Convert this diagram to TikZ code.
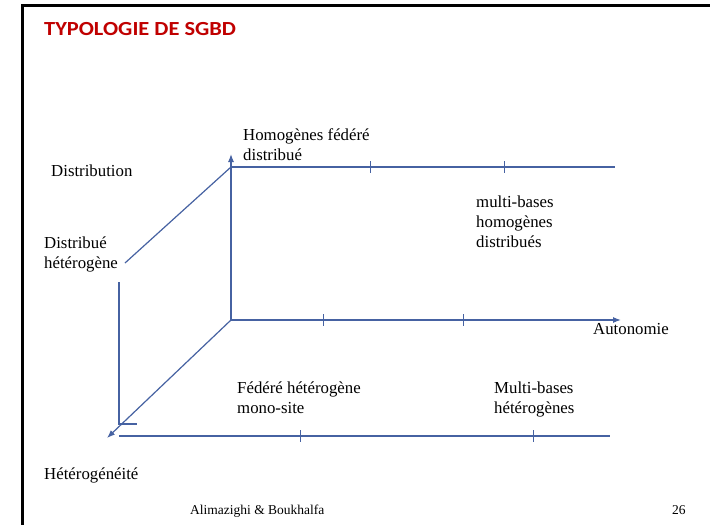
\documentclass[tikz,border=0pt]{standalone}
\usepackage{fontspec}
\setmainfont{Liberation Serif}
\newfontfamily\titlefont{Carlito}
\usetikzlibrary{arrows.meta}
\definecolor{axiscol}{RGB}{70,98,162}
\definecolor{titlered}{RGB}{192,0,0}
\tikzset{
  axisline/.style={draw=axiscol, line width=1.2pt},
  axisarrow/.style={axisline, -{Latex[length=8pt,width=6pt]}},
  tickmark/.style={draw=axiscol, line width=1pt},
  lbl/.style={anchor=base west, inner sep=0pt, align=left, font=\fontsize{16.8}{20}\selectfont},
  foot/.style={anchor=base west, inner sep=0pt, font=\fontsize{13.5}{16}\selectfont},
  framebar/.style={draw=black, line width=3pt}
}
\begin{document}
\begin{tikzpicture}[x=1pt,y=-1pt]
\useasboundingbox (0,0) rectangle (710,525);
\fill[white] (0,0) rectangle (710,525);
% frame
\coordinate (fTL) at (22.5,5);
\coordinate (fTR) at (710,5);
\coordinate (fBL) at (22.5,525);
\draw[framebar] (fBL) -- (fTL) -- (fTR);
% title
\node[anchor=base west, inner sep=0pt, text=titlered, font=\titlefont\bfseries\fontsize{20}{22}\selectfont] (title) at (44,35.5) {\scalebox{1.12}[1]{TYPOLOGIE DE SGBD}};
% axes coordinates
\coordinate (O) at (231,320);
\coordinate (Vtop) at (231,154);
\coordinate (T0) at (231,167);
\coordinate (Tend) at (615,167);
\coordinate (Aend) at (621,320);
\coordinate (Dend) at (107,438);
\coordinate (Uend) at (125,263);
\coordinate (Ltop) at (119,282);
\coordinate (Lbot) at (119,424);
\coordinate (Lshort) at (137,424);
\coordinate (B0) at (119,436);
\coordinate (Bend) at (610,436);
% axis lines
\draw[axisarrow] (O) -- (Vtop);
\draw[axisline] (T0) -- (Tend);
\draw[axisarrow] (O) -- (Aend);
\draw[axisarrow] (O) -- (Dend);
\draw[axisline] (T0) -- (Uend);
\draw[axisline] (Ltop) -- (Lbot) -- (Lshort);
\draw[axisline] (B0) -- (Bend);
% ticks
\foreach \x in {370,504} \draw[tickmark] (\x,161) -- (\x,173);
\foreach \x in {323,463} \draw[tickmark] (\x,314) -- (\x,326);
\foreach \x in {300,533} \draw[tickmark] (\x,430) -- (\x,442);
% labels (base = baseline of last line)
\node[lbl] (homog) at (243,160) {Homogènes fédéré\\distribué};
\node[lbl] (distrib) at (51,176) {Distribution};
\node[lbl] (disthet) at (44,268) {Distribué\\hétérogène};
\node[lbl] (multihom) at (476,247) {multi-bases\\homogènes\\distribués};
\node[lbl] (auton) at (593,334) {Autonomie};
\node[lbl] (fedhet) at (237,413) {Fédéré hétérogène\\mono-site};
\node[lbl] (multihet) at (494,413) {Multi-bases\\hétérogènes};
\node[lbl] (hetero) at (44,479) {Hétérogénéité};
\node[foot] (authors) at (190,514) {Alimazighi \& Boukhalfa};
\node[foot] (page) at (672,514) {26};
\end{tikzpicture}
\end{document}
